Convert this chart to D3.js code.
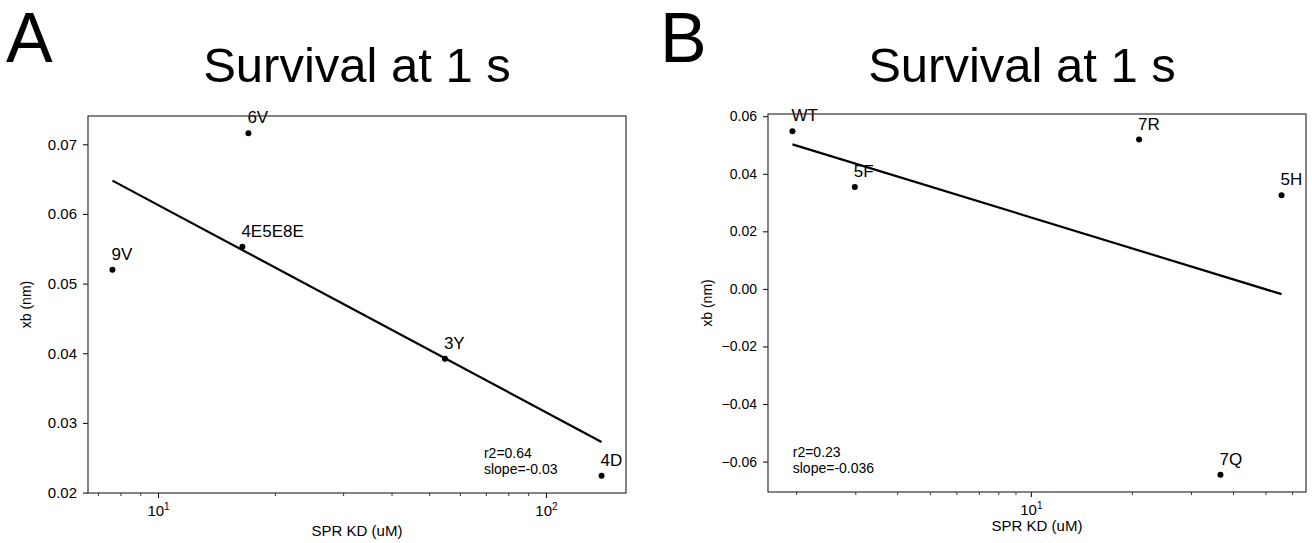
<!DOCTYPE html>
<html>
<head>
<meta charset="utf-8">
<script src="https://cdn.jsdelivr.net/npm/d3@7"></script>
<style>
  html, body { margin: 0; padding: 0; background: #fff; }
  svg { display: block; }
  text { font-family: "Liberation Sans", Arial, Helvetica, sans-serif; fill: #000; }
</style>
</head>
<body>
<svg id="chart" width="1312" height="543"></svg>
<script>
// ---------------- data ----------------
const panelLabels = ["A", "B"];
const titles = ["Survival at 1 s", "Survival at 1 s"];
const xLabel = "SPR KD (uM)";
const yLabel = "xb (nm)";

const mutantsA = ["9V", "6V", "4E5E8E", "3Y", "4D"];
const kdA = [7.63, 17.1, 16.5, 54.9, 139.1];
const xbA = [0.0520, 0.0716, 0.0553, 0.0392, 0.0224];
const statsA = ["r2=0.64", "slope=-0.03"];
const yTicksA = [0.02, 0.03, 0.04, 0.05, 0.06, 0.07];
const xTicksA = [10, 100];

const mutantsB = ["WT", "5F", "7R", "5H", "7Q"];
const kdB = [1.95, 2.99, 21.0, 55.8, 36.7];
const xbB = [0.0548, 0.0354, 0.0519, 0.0325, -0.0646];
const statsB = ["r2=0.23", "slope=-0.036"];
const yTicksB = [-0.06, -0.04, -0.02, 0.00, 0.02, 0.04, 0.06];
const xTicksB = [10];

// ---------------- layout ----------------
const svg = d3.select("#chart");
const panels = [
  { label: panelLabels[0], title: titles[0], names: mutantsA, xs: kdA, ys: xbA, stats: statsA,
    yTicks: yTicksA, xTicks: xTicksA,
    box: { l: 88, r: 626, t: 116, b: 493 }, titleX: 357, labelX: 6,
    statsPos: [0.736, 458], yLabelX: 31, xLabelY: 536, yTickFont: 15 },
  { label: panelLabels[1], title: titles[1], names: mutantsB, xs: kdB, ys: xbB, stats: statsB,
    yTicks: yTicksB, xTicks: xTicksB,
    box: { l: 768, r: 1306, t: 114, b: 492 }, titleX: 1022, labelX: 660,
    statsPos: [0.046, 457], yLabelX: 712, xLabelY: 531, yTickFont: 14 }
];

panels.forEach(p => {
  const { l, r, t, b } = p.box;
  const lx = p.xs.map(v => Math.log10(v));
  const lxMin = d3.min(lx), lxMax = d3.max(lx), lxSpan = lxMax - lxMin;
  const yMin = d3.min(p.ys), yMax = d3.max(p.ys), ySpan = yMax - yMin;

  const x = d3.scaleLog()
    .domain([Math.pow(10, lxMin - 0.05 * lxSpan), Math.pow(10, lxMax + 0.05 * lxSpan)])
    .range([l, r]);
  const y = d3.scaleLinear()
    .domain([yMin - 0.05 * ySpan, yMax + 0.05 * ySpan])
    .range([b, t]);

  const g = svg.append("g");

  // panel letter
  g.append("text").attr("x", p.labelX).attr("y", 62)
    .attr("font-size", 70).text(p.label);

  // title
  g.append("text").attr("x", p.titleX).attr("y", 82)
    .attr("text-anchor", "middle").attr("font-size", 49).text(p.title);

  // regression fit (least squares on log10 x)
  const mx = d3.mean(lx), my = d3.mean(p.ys);
  let sxy = 0, sxx = 0;
  lx.forEach((v, i) => { sxy += (v - mx) * (p.ys[i] - my); sxx += (v - mx) * (v - mx); });
  const slope = sxy / sxx, icpt = my - slope * mx;
  const fitPts = [lxMin, lxMax].map(v => [Math.pow(10, v), icpt + slope * v]);
  g.append("path")
    .attr("d", d3.line().x(d => x(d[0])).y(d => y(d[1]))(fitPts))
    .attr("fill", "none").attr("stroke", "#000").attr("stroke-width", 2.2);

  // points
  g.selectAll("circle.pt").data(p.xs).join("circle")
    .attr("class", "pt")
    .attr("cx", (d) => x(d)).attr("cy", (d, i) => y(p.ys[i]))
    .attr("r", 3).attr("fill", "#000");

  // point labels
  g.selectAll("text.lbl").data(p.names).join("text")
    .attr("class", "lbl")
    .attr("x", (d, i) => x(p.xs[i]) - 1)
    .attr("y", (d, i) => y(p.ys[i]) - 10)
    .attr("font-size", 17).text(d => d);

  // stats
  g.selectAll("text.st").data(p.stats).join("text")
    .attr("class", "st")
    .attr("x", l + p.statsPos[0] * (r - l))
    .attr("y", (d, i) => p.statsPos[1] + i * 16)
    .attr("font-size", 14).text(d => d);

  // y axis
  const yAxis = d3.axisLeft(y).tickValues(p.yTicks).tickSize(5).tickPadding(6)
    .tickFormat(v => (v < 0 ? "\u2212" : "") + Math.abs(v).toFixed(2));
  const ya = g.append("g").attr("transform", `translate(${l},0)`).call(yAxis);
  ya.select(".domain").remove();
  ya.selectAll(".tick line").attr("stroke", "#000").attr("stroke-width", 1);
  ya.selectAll(".tick text").attr("font-size", p.yTickFont)
    .attr("font-family", "Liberation Sans, Arial, sans-serif").attr("fill", "#000");

  // x axis major
  const xAxis = d3.axisBottom(x).tickValues(p.xTicks).tickSize(5).tickPadding(7)
    .tickFormat("");
  const xa = g.append("g").attr("transform", `translate(0,${b})`).call(xAxis);
  xa.select(".domain").remove();
  xa.selectAll(".tick line").attr("stroke", "#000").attr("stroke-width", 1);
  xa.selectAll(".tick text").each(function(v) {
    const tx = d3.select(this)
      .attr("font-size", 15).attr("fill", "#000")
      .attr("font-family", "Liberation Sans, Arial, sans-serif");
    tx.text(null);
    tx.append("tspan").text("10");
    tx.append("tspan").attr("font-size", 10).attr("dy", -6)
      .text(String(Math.round(Math.log10(v))));
  });

  // x axis minor ticks
  const dom = x.domain();
  const minor = x.ticks().filter(v => v >= dom[0] && v <= dom[1] && p.xTicks.indexOf(v) < 0);
  const xm = d3.axisBottom(x).tickValues(minor).tickSize(3).tickFormat("");
  const xmg = g.append("g").attr("transform", `translate(0,${b})`).call(xm);
  xmg.select(".domain").remove();
  xmg.selectAll(".tick line").attr("stroke", "#000").attr("stroke-width", 0.8);

  // frame
  g.append("rect").attr("x", l).attr("y", t).attr("width", r - l).attr("height", b - t)
    .attr("fill", "none").attr("stroke", "#333").attr("stroke-width", 1.2);

  // axis labels
  g.append("text").attr("x", (l + r) / 2).attr("y", p.xLabelY)
    .attr("text-anchor", "middle").attr("font-size", 15).text(xLabel);
  g.append("text")
    .attr("transform", `translate(${p.yLabelX},${(t + b) / 2}) rotate(-90)`)
    .attr("text-anchor", "middle").attr("font-size", 14).text(yLabel);
});
</script>
</body>
</html>
